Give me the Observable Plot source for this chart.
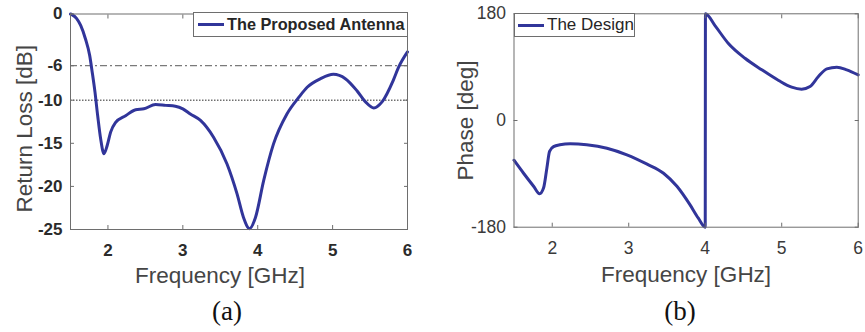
<!DOCTYPE html>
<html>
<head>
<meta charset="utf-8">
<script src="https://cdn.jsdelivr.net/npm/d3@7"></script>
<script src="https://cdn.jsdelivr.net/npm/@observablehq/plot@0.6"></script>
<style>
  html, body { margin: 0; padding: 0; background: #fff; }
  #wrap { position: relative; width: 865px; height: 332px; font-family: "Liberation Sans", Arial, sans-serif; }
  .panel { position: absolute; top: 0; }
  .legend { position: absolute; background: #fff; border: 1px solid #6e6e6e; box-sizing: border-box; display: flex; align-items: center; color: #262626; font-size: 17px; white-space: nowrap; }
  .legend .sw { display: inline-block; height: 3px; background: #31359a; margin-right: 3px; }
  .cap { position: absolute; font-family: "Liberation Serif", "Times New Roman", serif; font-size: 27px; color: #111; transform: translate(-50%, -50%); }
</style>
</head>
<body>
<div id="wrap">
  <div id="pa" class="panel" style="left:0px"></div>
  <div id="pb" class="panel" style="left:430px"></div>
  <div class="legend" style="left:193px;top:12px;width:215px;height:25px;font-weight:bold;font-size:16.3px;padding-left:4px">
    <span class="sw" style="width:26px"></span><span>The Proposed Antenna</span>
  </div>
  <div class="legend" style="left:514px;top:13px;width:121px;height:24px;padding-left:3px">
    <span class="sw" style="width:26px"></span><span>The Design</span>
  </div>
  <div class="cap" style="left:227px;top:311px">(a)</div>
  <div class="cap" style="left:680px;top:311px">(b)</div>
</div>
<script>
// ---- Data ----
const freqRL = [1.5, 1.525, 1.58, 1.636, 1.70, 1.756, 1.79, 1.827, 1.863, 1.903, 1.947, 1.99, 2.036, 2.10, 2.236, 2.37, 2.48, 2.636, 2.77, 2.90, 3.0, 3.10, 3.236, 3.41, 3.59, 3.725, 3.81, 3.89, 3.97, 4.08, 4.21, 4.39, 4.55, 4.66, 4.84, 5.01, 5.17, 5.325, 5.44, 5.55, 5.66, 5.81, 5.88, 6.0];
const returnLoss = [0, -0.1, -0.5, -1.33, -2.9, -4.8, -6.75, -9.07, -11.8, -14.5, -16.2, -15.25, -13.7, -12.6, -11.8, -11.1, -11.0, -10.5, -10.6, -10.7, -11.0, -11.6, -12.35, -14.3, -17.4, -20.9, -23.6, -24.9, -23.6, -19.3, -15.1, -11.6, -9.65, -8.5, -7.5, -7.0, -7.5, -8.9, -10.2, -10.9, -10.2, -7.7, -6.2, -4.4];

const freqPh = [1.5, 1.625, 1.756, 1.834, 1.886, 1.93, 1.965, 2.017, 2.1, 2.235, 2.45, 2.715, 2.976, 3.24, 3.455, 3.63, 3.80, 3.91, 4.0, 4.003, 4.13, 4.30, 4.52, 4.74, 4.96, 5.13, 5.26, 5.37, 5.48, 5.59, 5.72, 5.85, 6.0];
const phase = [-67, -89, -111, -123.7, -114, -80, -52, -44, -41, -39.4, -41, -46.7, -57.9, -73.7, -88.9, -111, -142, -164.8, -180, 180, 159.6, 130.4, 105, 85.5, 67.5, 56.2, 52.8, 57.4, 74.2, 87.2, 90, 85.5, 77];

const xTicks = [2, 3, 4, 5, 6];
const yTicksRL = [0, -6, -10, -15, -20, -25];
const yTicksPh = [-180, 0, 180];
const refLevels = [-6, -10];

const rlData = freqRL.map((f, i) => ({f, v: returnLoss[i]}));
const phData = freqPh.map((f, i) => ({f, v: phase[i]}));

const FONT = "Liberation Sans, Arial, sans-serif";
const LINE = "#31359a";
const FRAME = "#6e6e6e";
const TICKTXT = "#2b2b2b";
const LABEL = "#454545";
const fmt = d => String(d);

const chartA = Plot.plot({
  width: 420, height: 290,
  marginLeft: 70, marginRight: 13, marginTop: 13.5, marginBottom: 61,
  style: {fontFamily: FONT, background: "transparent", overflow: "visible"},
  x: {domain: [1.5, 6]},
  y: {domain: [-25, 0]},
  marks: [
    Plot.ruleY([refLevels[0]], {stroke: "#7a7a7a", strokeWidth: 1.2, strokeDasharray: "7,3,2,3"}),
    Plot.ruleY([refLevels[1]], {stroke: "#707070", strokeWidth: 1.4, strokeDasharray: "1.5,1.5"}),
    Plot.line(rlData, {x: "f", y: "v", stroke: LINE, strokeWidth: 3, curve: "monotone-x"}),
    Plot.frame({stroke: FRAME}),
    Plot.axisX(xTicks, {anchor: "bottom", tickSize: -4, tickPadding: 18, tickFormat: fmt, fontSize: 17, fontWeight: "bold", color: TICKTXT, stroke: FRAME, label: null}),
    Plot.axisX(xTicks, {anchor: "top", tickSize: -4, tickFormat: () => "", stroke: FRAME, label: null}),
    Plot.axisY(yTicksRL, {anchor: "left", tickSize: -4, tickPadding: 12, tickFormat: fmt, fontSize: 17, fontWeight: "bold", color: TICKTXT, stroke: FRAME, label: null}),
    Plot.axisY(yTicksRL, {anchor: "right", tickSize: -4, tickFormat: () => "", stroke: FRAME, label: null}),
    Plot.text(["Frequency [GHz]"], {frameAnchor: "bottom", dx: -19, dy: 46, lineAnchor: "middle", textAnchor: "middle", text: d => d, fontSize: 22.5, fill: LABEL}),
    Plot.text(["Return Loss [dB]"], {frameAnchor: "left", dx: -46, dy: 7, rotate: -90, textAnchor: "middle", lineAnchor: "middle", text: d => d, fontSize: 22.5, fill: LABEL})
  ]
});
document.getElementById("pa").appendChild(chartA);

const chartB = Plot.plot({
  width: 435, height: 290,
  marginLeft: 83.5, marginRight: 7.3, marginTop: 13.3, marginBottom: 63.3,
  style: {fontFamily: FONT, background: "transparent", overflow: "visible"},
  x: {domain: [1.5, 6]},
  y: {domain: [-180, 180]},
  marks: [
    Plot.line(phData, {x: "f", y: "v", stroke: LINE, strokeWidth: 3, curve: "monotone-x"}),
    Plot.frame({stroke: FRAME}),
    Plot.axisX(xTicks, {anchor: "bottom", tickSize: -4, tickPadding: 18, tickFormat: fmt, fontSize: 17.5, color: "#3a3a3a", stroke: FRAME, label: null}),
    Plot.axisX(xTicks, {anchor: "top", tickSize: -4, tickFormat: () => "", stroke: FRAME, label: null}),
    Plot.axisY(yTicksPh, {anchor: "left", tickSize: -4, tickPadding: 12, tickFormat: fmt, fontSize: 17.5, color: "#3a3a3a", stroke: FRAME, label: null}),
    Plot.axisY(yTicksPh, {anchor: "right", tickSize: -4, tickFormat: () => "", stroke: FRAME, label: null}),
    Plot.text(["Frequency [GHz]"], {frameAnchor: "bottom", dy: 48, lineAnchor: "middle", textAnchor: "middle", text: d => d, fontSize: 22.5, fill: LABEL}),
    Plot.text(["Phase [deg]"], {frameAnchor: "left", dx: -48.5, rotate: -90, textAnchor: "middle", lineAnchor: "middle", text: d => d, fontSize: 22.5, fill: LABEL})
  ]
});
document.getElementById("pb").appendChild(chartB);
</script>
</body>
</html>
